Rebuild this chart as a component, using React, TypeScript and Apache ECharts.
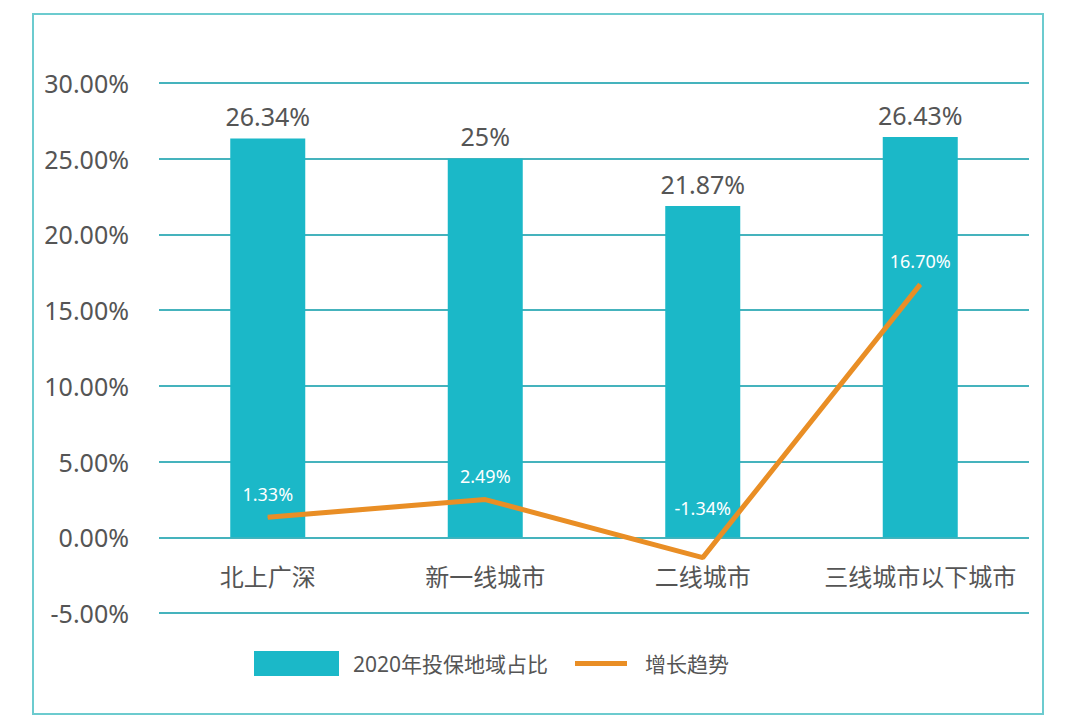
import React, { useEffect, useRef } from "react";
import * as echarts from "echarts";

const categories = ["北上广深", "新一线城市", "二线城市", "三线城市以下城市"];
const shareValues = [26.34, 25, 21.87, 26.43];
const growthValues = [1.33, 2.49, -1.34, 16.7];
const barName = "2020年投保地域占比";
const lineName = "增长趋势";

const FONT = '"Noto Sans", "Noto Sans CJK SC", sans-serif';
const TEAL = "#1BB8C8";
const ORANGE = "#E98E25";
const GRID = "#45B3BD";
const TEXT = "#555555";

export default function App() {
  const ref = useRef<HTMLDivElement>(null);
  useEffect(() => {
    if (!ref.current) return;
    const chart = echarts.init(ref.current, null, { renderer: "svg" });
    const lineData = growthValues.map((v) =>
      v < 0 ? { value: v, label: { distance: 40 } } : v
    );
    chart.setOption({
      animation: false,
      backgroundColor: "#ffffff",
      textStyle: { fontFamily: FONT },
      graphic: [
        {
          type: "rect",
          shape: { x: 33, y: 14, width: 1010, height: 700 },
          style: { fill: "none", stroke: "#6CCBCF", lineWidth: 2 },
        },
      ],
      grid: { left: 159, right: 51, top: 83, bottom: 104, containLabel: false },
      legend: [
        {
          data: [{ name: barName, icon: "rect" }],
          left: 254,
          top: 651,
          padding: 0,
          itemWidth: 85,
          itemHeight: 25,
          textStyle: { fontSize: 21, color: TEXT, fontFamily: FONT, padding: [0, 0, 0, 9] },
        },
        {
          data: [{ name: lineName, icon: "rect", itemStyle: { color: ORANGE } }],
          left: 575,
          top: 651,
          padding: 0,
          itemWidth: 52,
          itemHeight: 5,
          textStyle: { fontSize: 21, color: TEXT, fontFamily: FONT, padding: [0, 0, 0, 13], lineHeight: 25 },
        },
      ],
      xAxis: {
        type: "category",
        data: categories,
        offset: -76,
        axisLine: { show: false, onZero: false },
        axisTick: { show: false },
        axisLabel: { color: TEXT, fontSize: 24, margin: 27, interval: 0, fontFamily: FONT },
      },
      yAxis: {
        type: "value",
        min: -5,
        max: 30,
        interval: 5,
        axisLine: { show: false },
        axisTick: { show: false },
        axisLabel: {
          color: TEXT,
          fontSize: 25,
          margin: 30,
          fontFamily: FONT,
          formatter: (v: number) => v.toFixed(2) + "%",
        },
        splitLine: { lineStyle: { color: GRID, width: 2 } },
      },
      series: [
        {
          name: barName,
          type: "bar",
          data: shareValues,
          barWidth: 75,
          itemStyle: { color: TEAL },
          label: {
            show: true,
            position: "top",
            distance: 10,
            color: TEXT,
            fontSize: 25,
            fontFamily: FONT,
            formatter: (p: any) => p.value + "%",
          },
        },
        {
          name: lineName,
          type: "line",
          data: lineData,
          symbol: "circle",
          symbolSize: 1,
          z: 5,
          itemStyle: { color: ORANGE },
          lineStyle: { color: ORANGE, width: 5 },
          label: {
            show: true,
            position: "top",
            distance: 14,
            color: "#ffffff",
            fontSize: 18,
            fontFamily: FONT,
            formatter: (p: any) => Number(p.value).toFixed(2) + "%",
          },
        },
      ],
    });
    return () => chart.dispose();
  }, []);
  return (
    <div
      ref={ref}
      style={{ position: "absolute", left: 0, top: 0, width: 1080, height: 717 }}
    />
  );
}
